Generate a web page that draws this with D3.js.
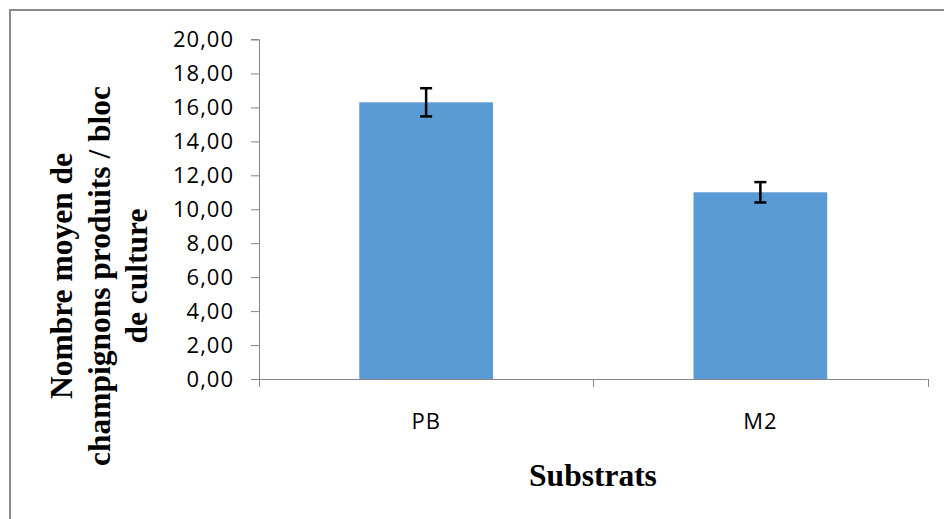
<!DOCTYPE html>
<html>
<head>
<meta charset="utf-8">
<script src="https://cdn.jsdelivr.net/npm/d3@7"></script>
<style>
  html, body { margin: 0; padding: 0; background: #fff; }
  svg { display: block; }
</style>
</head>
<body>
<svg id="chart" width="944" height="519"></svg>
<script>
const categories = ["PB", "M2"];
const values = [16.30, 11.00];
const errors = [0.83, 0.60];
const yTicks = [0, 2, 4, 6, 8, 10, 12, 14, 16, 18, 20];
const yTitleLines = ["Nombre moyen de", "champignons produits / bloc", "de culture"];
const xTitle = "Substrats";

const svg = d3.select("#chart");
const W = 944, H = 519;
svg.append("rect").attr("x", 0).attr("y", 0).attr("width", W).attr("height", H).attr("fill", "#fff");

// outer chart border (extends past right/bottom edges)
svg.append("rect")
  .attr("x", 10).attr("y", 10).attr("width", 1000).attr("height", 600)
  .attr("fill", "none").attr("stroke", "#8a8a8a").attr("stroke-width", 2);

const x0 = 259, x1 = 927.5, yBottom = 379, yTop = 39.5;
const axisColor = "#868686";
const sansFont = "'Open Sans', 'Noto Sans', sans-serif";

const x = d3.scaleBand().domain(categories).range([x0, x1]).paddingInner(0.6).paddingOuter(0.3);
const y = d3.scaleLinear().domain([0, 20]).range([yBottom, yTop]);

// bars
svg.selectAll("rect.bar").data(categories).enter().append("rect")
  .attr("class", "bar")
  .attr("x", d => x(d))
  .attr("width", x.bandwidth())
  .attr("y", (d, i) => y(values[i]))
  .attr("height", (d, i) => y(0) - y(values[i]))
  .attr("fill", "#5b9bd5");

// Y axis
const yAxis = d3.axisLeft(y).tickValues(yTicks).tickSize(8).tickPadding(17)
  .tickFormat(d => d3.format(".2f")(d).replace(".", ","));
const gy = svg.append("g").attr("transform", `translate(${x0},0)`).call(yAxis);
gy.select(".domain").attr("stroke", axisColor).attr("d", `M-8,${yTop}H0.5V${yBottom}`);
gy.selectAll(".tick line").attr("stroke", axisColor);
gy.selectAll(".tick text")
  .attr("font-family", sansFont)
  .attr("font-size", 22).attr("letter-spacing", 1).attr("fill", "#000");

// X axis
const gx = svg.append("g").attr("transform", `translate(0,${yBottom})`);
gx.append("line").attr("x1", x0).attr("x2", x1).attr("y1", 0.5).attr("y2", 0.5).attr("stroke", axisColor);
const boundaries = [x0].concat(categories.map(c => x(c) + x.bandwidth() / 2 + x.step() / 2));
gx.selectAll("line.tk").data(boundaries).enter().append("line")
  .attr("class", "tk")
  .attr("x1", d => Math.round(d) + 0.5).attr("x2", d => Math.round(d) + 0.5)
  .attr("y1", 0).attr("y2", 8).attr("stroke", axisColor);
gx.selectAll("text.cat").data(categories).enter().append("text")
  .attr("class", "cat")
  .attr("x", d => x(d) + x.bandwidth() / 2)
  .attr("y", 50)
  .attr("text-anchor", "middle")
  .attr("font-family", sansFont)
  .attr("font-size", 22).attr("letter-spacing", 1).attr("fill", "#000")
  .text(d => d);

// error bars
const eb = svg.append("g").attr("stroke", "#000").attr("stroke-width", 2.5);
categories.forEach((c, i) => {
  const cx = x(c) + x.bandwidth() / 2;
  const top = y(values[i] + errors[i]), bot = y(values[i] - errors[i]);
  eb.append("line").attr("x1", cx).attr("x2", cx).attr("y1", top).attr("y2", bot);
  eb.append("line").attr("x1", cx - 6).attr("x2", cx + 6).attr("y1", top).attr("y2", top);
  eb.append("line").attr("x1", cx - 6).attr("x2", cx + 6).attr("y1", bot).attr("y2", bot);
});

// X title
svg.append("text")
  .attr("x", 593).attr("y", 486)
  .attr("text-anchor", "middle")
  .attr("font-family", "'Liberation Serif', 'Times New Roman', serif")
  .attr("font-weight", "bold").attr("font-size", 31.5).attr("fill", "#000")
  .text(xTitle);

// Y title (rotated)
const yt = svg.append("text")
  .attr("transform", "translate(0,276) rotate(-90)")
  .attr("text-anchor", "middle")
  .attr("font-family", "'Liberation Serif', 'Times New Roman', serif")
  .attr("font-weight", "bold").attr("font-size", 31.5).attr("fill", "#000");
const baselines = [72, 109.5, 147];
yTitleLines.forEach((t, i) => {
  yt.append("tspan").attr("x", 0).attr("y", baselines[i]).text(t);
});
</script>
</body>
</html>
